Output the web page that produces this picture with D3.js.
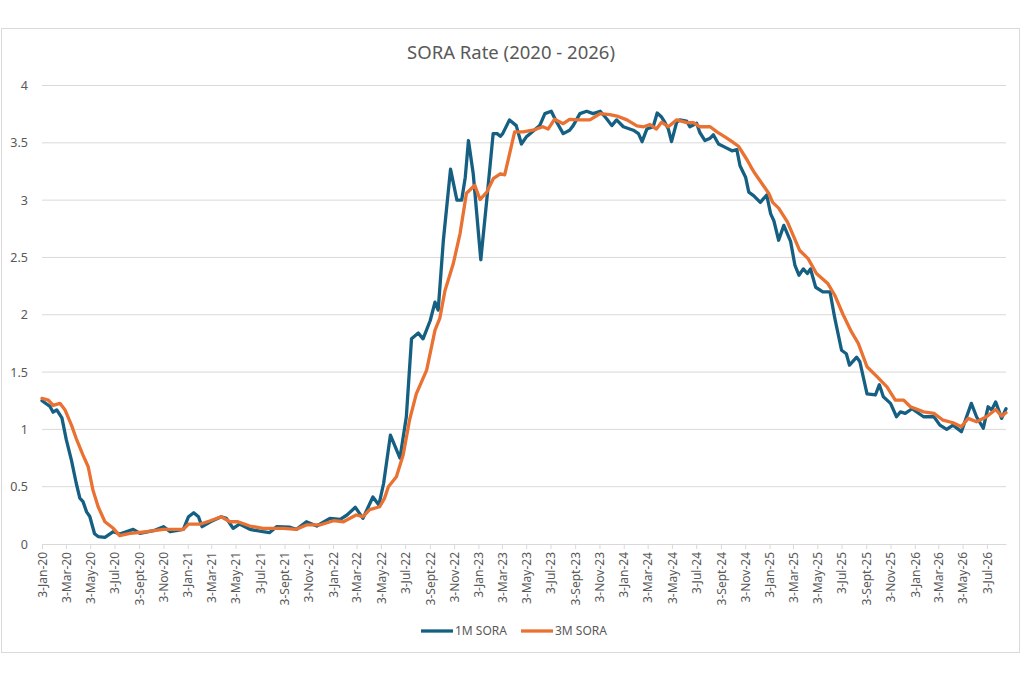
<!DOCTYPE html>
<html>
<head>
<meta charset="utf-8">
<script src="https://cdn.jsdelivr.net/npm/d3@7"></script>
<style>
  body { margin: 0; background: #fff; }
  text { font-family: "Noto Sans", "Open Sans", sans-serif; fill: #595959; }
</style>
</head>
<body>
<div id="chart"></div>
<script>
// values
var title = "SORA Rate (2020 - 2026)";
var seriesNames = ["1M SORA", "3M SORA"];

var oneMDates = ["2020-01-03","2020-01-23","2020-01-31","2020-02-09","2020-02-22","2020-03-04","2020-03-17","2020-03-29","2020-04-07","2020-04-15","2020-04-24","2020-05-02","2020-05-14","2020-05-23","2020-06-09","2020-06-30","2020-07-16","2020-08-19","2020-09-05","2020-10-09","2020-11-03","2020-11-20","2020-12-23","2021-01-05","2021-01-18","2021-01-30","2021-02-08","2021-03-01","2021-03-28","2021-04-10","2021-04-27","2021-05-13","2021-06-08","2021-07-11","2021-07-27","2021-08-14","2021-09-17","2021-10-03","2021-10-28","2021-11-23","2021-12-26","2022-01-21","2022-02-07","2022-02-28","2022-03-19","2022-04-13","2022-04-28","2022-05-10","2022-05-27","2022-06-20","2022-07-06","2022-07-19","2022-08-05","2022-08-17","2022-09-04","2022-09-16","2022-09-24","2022-10-07","2022-10-25","2022-11-10","2022-11-22","2022-12-01","2022-12-09","2022-12-21","2023-01-09","2023-01-24","2023-02-09","2023-02-19","2023-02-27","2023-03-05","2023-03-22","2023-04-08","2023-04-21","2023-05-03","2023-05-20","2023-06-06","2023-06-19","2023-07-05","2023-07-17","2023-08-04","2023-08-20","2023-08-29","2023-09-15","2023-10-02","2023-10-18","2023-11-05","2023-11-21","2023-12-04","2023-12-16","2024-01-02","2024-01-27","2024-02-09","2024-02-18","2024-03-01","2024-03-17","2024-03-27","2024-04-07","2024-04-15","2024-04-24","2024-05-02","2024-05-15","2024-05-23","2024-06-09","2024-06-17","2024-07-04","2024-07-12","2024-07-25","2024-08-07","2024-08-15","2024-08-28","2024-09-14","2024-10-01","2024-10-13","2024-10-21","2024-11-04","2024-11-12","2024-11-24","2024-12-11","2024-12-27","2025-01-06","2025-01-14","2025-01-26","2025-02-08","2025-02-25","2025-03-08","2025-03-18","2025-03-29","2025-04-08","2025-04-16","2025-04-29","2025-05-17","2025-06-04","2025-06-16","2025-07-03","2025-07-15","2025-07-23","2025-08-10","2025-08-18","2025-09-05","2025-09-26","2025-10-06","2025-10-16","2025-11-03","2025-11-18","2025-11-28","2025-12-10","2025-12-27","2026-01-25","2026-02-20","2026-03-07","2026-03-24","2026-04-09","2026-04-30","2026-05-13","2026-05-25","2026-06-07","2026-06-24","2026-07-06","2026-07-15","2026-07-25","2026-08-09","2026-08-20"];
var oneMValues = [1.25,1.20,1.15,1.17,1.10,0.91,0.73,0.53,0.40,0.37,0.28,0.24,0.09,0.065,0.058,0.107,0.087,0.128,0.093,0.116,0.151,0.107,0.128,0.238,0.273,0.238,0.151,0.194,0.238,0.224,0.137,0.174,0.128,0.107,0.099,0.151,0.146,0.128,0.194,0.157,0.224,0.215,0.253,0.32,0.224,0.41,0.34,0.53,0.95,0.75,1.11,1.79,1.84,1.79,1.95,2.11,2.04,2.65,3.27,3.0,3.0,3.2,3.52,3.23,2.48,3.0,3.58,3.58,3.557,3.58,3.70,3.65,3.49,3.55,3.60,3.65,3.755,3.775,3.69,3.58,3.61,3.65,3.755,3.775,3.755,3.775,3.71,3.65,3.70,3.64,3.61,3.58,3.51,3.62,3.64,3.76,3.725,3.68,3.62,3.51,3.68,3.70,3.69,3.64,3.67,3.59,3.52,3.54,3.57,3.49,3.46,3.43,3.44,3.30,3.20,3.07,3.04,2.98,3.045,2.88,2.82,2.65,2.78,2.64,2.43,2.345,2.40,2.36,2.40,2.24,2.20,2.20,1.97,1.69,1.66,1.56,1.63,1.59,1.31,1.30,1.39,1.284,1.227,1.11,1.153,1.14,1.18,1.11,1.11,1.037,1.0,1.037,0.98,1.11,1.227,1.11,1.01,1.197,1.17,1.24,1.096,1.18];

var threeMDates = ["2020-01-03","2020-01-19","2020-01-31","2020-02-17","2020-03-01","2020-03-17","2020-03-29","2020-04-15","2020-04-28","2020-05-10","2020-05-23","2020-06-09","2020-06-30","2020-07-16","2020-08-11","2020-09-22","2020-11-03","2020-12-23","2021-01-05","2021-02-04","2021-03-01","2021-03-28","2021-04-19","2021-05-09","2021-06-08","2021-07-11","2021-08-31","2021-10-03","2021-10-28","2021-12-01","2022-01-04","2022-01-29","2022-03-02","2022-03-19","2022-04-05","2022-04-30","2022-05-12","2022-05-22","2022-06-11","2022-06-28","2022-07-14","2022-07-31","2022-08-26","2022-09-16","2022-09-28","2022-10-11","2022-11-01","2022-11-18","2022-12-04","2022-12-25","2023-01-07","2023-01-24","2023-02-10","2023-02-27","2023-03-10","2023-03-26","2023-04-04","2023-04-25","2023-05-20","2023-06-14","2023-06-27","2023-07-13","2023-08-04","2023-08-20","2023-09-15","2023-10-10","2023-11-05","2023-11-29","2023-12-20","2024-01-11","2024-02-05","2024-02-22","2024-03-09","2024-03-25","2024-04-07","2024-04-24","2024-05-15","2024-06-09","2024-06-26","2024-07-12","2024-08-07","2024-08-24","2024-09-14","2024-10-01","2024-10-17","2024-11-08","2024-11-20","2024-11-28","2024-12-15","2025-01-01","2025-01-11","2025-01-26","2025-02-17","2025-03-20","2025-04-10","2025-05-01","2025-05-30","2025-06-16","2025-07-07","2025-07-28","2025-08-14","2025-09-05","2025-09-30","2025-10-25","2025-11-15","2025-12-06","2025-12-23","2026-01-25","2026-02-20","2026-03-15","2026-04-09","2026-04-30","2026-05-17","2026-06-07","2026-07-02","2026-07-25","2026-08-09","2026-08-20"];
var threeMValues = [1.27,1.255,1.21,1.227,1.168,1.037,0.92,0.776,0.674,0.47,0.325,0.194,0.137,0.073,0.093,0.107,0.128,0.128,0.174,0.174,0.203,0.238,0.194,0.194,0.157,0.137,0.137,0.128,0.166,0.166,0.203,0.194,0.253,0.238,0.30,0.325,0.398,0.50,0.587,0.776,1.08,1.31,1.517,1.866,1.968,2.21,2.447,2.71,3.06,3.13,3.005,3.07,3.19,3.23,3.22,3.46,3.595,3.595,3.61,3.64,3.62,3.705,3.667,3.705,3.70,3.70,3.755,3.746,3.73,3.70,3.647,3.64,3.66,3.62,3.68,3.64,3.70,3.676,3.676,3.64,3.64,3.595,3.55,3.51,3.47,3.35,3.275,3.23,3.145,3.06,2.98,2.93,2.81,2.56,2.49,2.36,2.27,2.17,2.0,1.85,1.75,1.546,1.46,1.37,1.255,1.255,1.197,1.153,1.14,1.08,1.058,1.023,1.096,1.066,1.11,1.174,1.116,1.145];

var xTickLabels = ["3-Jan-20","3-Mar-20","3-May-20","3-Jul-20","3-Sept-20","3-Nov-20","3-Jan-21","3-Mar-21","3-May-21","3-Jul-21","3-Sept-21","3-Nov-21","3-Jan-22","3-Mar-22","3-May-22","3-Jul-22","3-Sept-22","3-Nov-22","3-Jan-23","3-Mar-23","3-May-23","3-Jul-23","3-Sept-23","3-Nov-23","3-Jan-24","3-Mar-24","3-May-24","3-Jul-24","3-Sept-24","3-Nov-24","3-Jan-25","3-Mar-25","3-May-25","3-Jul-25","3-Sept-25","3-Nov-25","3-Jan-26","3-Mar-26","3-May-26","3-Jul-26"];
var yTicks = [0, 0.5, 1, 1.5, 2, 2.5, 3, 3.5, 4];

var colors = ["#156082", "#E97132"];

var width = 1024, height = 682;
var plotLeft = 42, plotRight = 1006, plotTop = 85.5, plotBottom = 544;

var parseDate = d3.timeParse("%Y-%m-%d");
var parseTick = function (s) { return d3.timeParse("%d-%b-%y")(s.replace("Sept", "Sep")); };

var series = [
  oneMDates.map(function (d, i) { return [parseDate(d), oneMValues[i]]; }),
  threeMDates.map(function (d, i) { return [parseDate(d), threeMValues[i]]; })
];

var svg = d3.select("#chart")
  .append("svg")
  .attr("width", width)
  .attr("height", height);

// chart frame
svg.append("rect")
  .attr("x", 1.5).attr("y", 28.5)
  .attr("width", 1018).attr("height", 624)
  .attr("fill", "#fff")
  .attr("stroke", "#d9d9d9");

svg.append("text")
  .attr("x", 511).attr("y", 59)
  .attr("text-anchor", "middle")
  .style("font-size", "18.5px")
  .text(title);

var xScale = d3.scaleTime()
  .domain([parseDate(oneMDates[0]), parseDate(oneMDates[oneMDates.length - 1])])
  .range([plotLeft, plotRight]);

var yScale = d3.scaleLinear()
  .domain([0, 4])
  .range([plotBottom, plotTop]);

// gridlines
svg.append("g")
  .selectAll("line")
  .data(yTicks.slice(1))
  .enter()
  .append("line")
  .attr("x1", plotLeft).attr("x2", plotRight)
  .attr("y1", function (d) { return yScale(d); })
  .attr("y2", function (d) { return yScale(d); })
  .attr("stroke", "#d9d9d9")
  .attr("stroke-width", 1);

var y_axis = d3.axisLeft(yScale)
  .tickValues(yTicks)
  .tickSize(0)
  .tickPadding(14)
  .tickFormat(d3.format("~g"));

svg.append("g")
  .attr("id", "y-axis")
  .attr("transform", "translate(" + plotLeft + ",0)")
  .call(y_axis)
  .call(function (g) { g.select(".domain").remove(); })
  .selectAll("text")
  .style("font-size", "12.5px");

var x_axis = d3.axisBottom(xScale)
  .tickValues(xTickLabels.map(parseTick))
  .tickSize(5)
  .tickSizeOuter(0)
  .tickFormat(function (d, i) { return xTickLabels[i]; });

var gx = svg.append("g")
  .attr("id", "x-axis")
  .attr("transform", "translate(0," + plotBottom + ")")
  .call(x_axis);

gx.select(".domain").attr("stroke", "#d9d9d9");
gx.selectAll(".tick line").attr("stroke", "#d9d9d9");
gx.selectAll("text")
  .attr("transform", "rotate(-90)")
  .attr("text-anchor", "end")
  .attr("x", -8)
  .attr("y", 0)
  .attr("dy", "0.35em")
  .style("font-size", "12px");

var line = d3.line()
  .x(function (d) { return xScale(d[0]); })
  .y(function (d) { return yScale(d[1]); });

svg.append("g")
  .selectAll("path")
  .data(series)
  .enter()
  .append("path")
  .attr("d", line)
  .attr("fill", "none")
  .attr("stroke", function (d, i) { return colors[i]; })
  .attr("stroke-width", 3.3)
  .attr("stroke-linejoin", "round")
  .attr("stroke-linecap", "round");

// legend
var legendX = [421, 521];
var legend = svg.append("g")
  .selectAll("g")
  .data(seriesNames)
  .enter()
  .append("g")
  .attr("transform", function (d, i) { return "translate(" + legendX[i] + ",631)"; });

legend.append("line")
  .attr("x1", 0).attr("x2", 32)
  .attr("stroke", function (d, i) { return colors[i]; })
  .attr("stroke-width", 3.3);

legend.append("text")
  .attr("x", 34)
  .attr("dy", "0.35em")
  .style("font-size", "12px")
  .text(function (d) { return d; });
</script>
</body>
</html>
